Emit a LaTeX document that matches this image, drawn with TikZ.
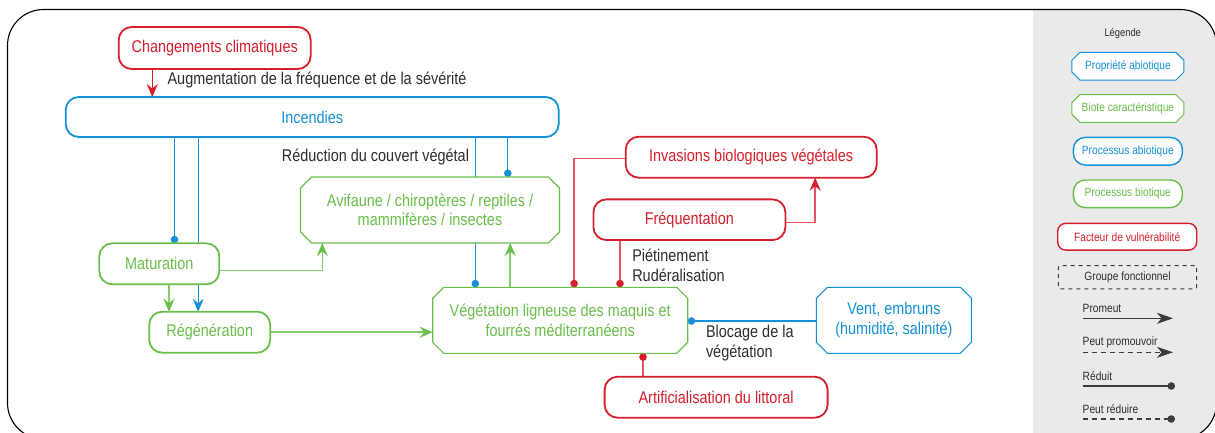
\documentclass[tikz,border=0pt]{standalone}
\usepackage{fontspec}
\setmainfont[FakeStretch=0.85]{Liberation Sans}
\usetikzlibrary{arrows.meta,calc}
\definecolor{cblue}{RGB}{20,145,216}
\definecolor{cgreen}{RGB}{106,190,74}
\definecolor{cred}{RGB}{214,30,44}
\definecolor{lgreen}{RGB}{135,205,108}
\definecolor{lred}{RGB}{226,84,94}
\definecolor{txtgrey}{RGB}{45,45,45}
\definecolor{legline}{RGB}{60,60,60}
\definecolor{panelgrey}{RGB}{234,234,234}
\pgfdeclarelayer{bg}
\pgfdeclarelayer{shapes}
\pgfsetlayers{bg,shapes,main}
\newcommand{\octbox}[3]{%
  \draw[#3] ([xshift=#2]#1.north west) -- ([xshift=-#2]#1.north east) -- ([yshift=-#2]#1.north east) -- ([yshift=#2]#1.south east) -- ([xshift=-#2]#1.south east) -- ([xshift=#2]#1.south west) -- ([yshift=#2]#1.south west) -- ([yshift=-#2]#1.north west) -- cycle;}
\begin{document}
\begin{tikzpicture}[x=1pt,y=-1pt,
  every node/.style={font=\fontsize{17}{19.6}\selectfont, inner sep=0pt, outer sep=0pt},
  rbox/.style={draw, line width=1.8pt, rounded corners=13pt, fill=white, align=center},
  obox/.style={align=center},
  octline/.style={line width=1.1pt, fill=white},
  lbl/.style={text=txtgrey, align=left},
  promo/.style={line width=1.5pt, -{Stealth[length=13pt,width=11pt,inset=4.5pt]}},
  reduc/.style={line width=1.4pt, -{Circle[length=7.5pt]}},
  legtxt/.style={font=\fontsize{12}{14}\selectfont},
  lrbox/.style={draw, line width=1.4pt, rounded corners=12pt, fill=white, legtxt},
  lobox/.style={legtxt},
  legl/.style={line width=1.3pt, legline}
]
\useasboundingbox (0,0) rectangle (1215,432);

% frame and legend panel
\begin{pgfonlayer}{bg}
\begin{scope}
  \clip[rounded corners=36pt] (7.5,9.5) rectangle (1216.5,439);
  \fill[panelgrey] (1033,0) rectangle (1220,440);
\end{scope}
\draw[line width=1.1pt, rounded corners=36pt] (7.5,9.5) rectangle (1216.5,439);
\end{pgfonlayer}

% main nodes
\node[rbox, draw=cred, text=cred, minimum width=192pt, minimum height=42pt] (cc) at (214.7,48) {Changements climatiques};
\node[rbox, draw=cblue, text=cblue, minimum width=493pt, minimum height=40pt] (inc) at (312.2,117) {Incendies};
\node[obox, text=cgreen, minimum width=259pt, minimum height=66pt] (avi) at (430,210) {Avifaune / chiroptères / reptiles /\\mammifères / insectes};
\node[rbox, draw=cgreen, text=cgreen, minimum width=120pt, minimum height=41pt] (mat) at (159.3,263.8) {Maturation};
\node[rbox, draw=cgreen, text=cgreen, minimum width=121pt, minimum height=41pt] (reg) at (209.7,332.2) {Régénération};
\node[obox, text=cgreen, minimum width=255pt, minimum height=66pt] (veg) at (560.2,320.3) {Végétation ligneuse des maquis et\\fourrés méditerranéens};
\node[rbox, draw=cred, text=cred, minimum width=251pt, minimum height=41pt] (inv) at (751.2,157.2) {Invasions biologiques végétales};
\node[rbox, draw=cred, text=cred, minimum width=192pt, minimum height=40.7pt] (fre) at (689.4,219.7) {Fréquentation};
\node[obox, text=cblue, minimum width=155pt, minimum height=66pt] (vent) at (893.9,320.3) {Vent, embruns\\(humidité, salinité)};
\node[rbox, draw=cred, text=cred, minimum width=223pt, minimum height=41pt] (art) at (716.1,397.2) {Artificialisation du littoral};

% labels
\node[lbl, anchor=west] (laug) at (167.6,80) {Augmentation de la fréquence et de la sévérité};
\node[lbl, anchor=east] (lred) at (469,157) {Réduction du couvert végétal};
\node[lbl, anchor=west] (lpie) at (632.3,265.5) {Piétinement\\Rudéralisation};
\node[lbl, anchor=west] (lblo) at (706,343) {Blocage de la\\végétation};

% legend nodes
\node[text=txtgrey, font=\fontsize{11}{13}\selectfont] (legt) at (1122.7,33.3) {Légende};
\node[lobox, text=cblue, minimum width=112pt, minimum height=27.7pt] (lg1) at (1127.9,66.2) {Propriété abiotique};
\node[lobox, text=cgreen, minimum width=112pt, minimum height=27.7pt] (lg2) at (1127.9,108.5) {Biote caractéristique};
\node[lrbox, draw=cblue, text=cblue, minimum width=109pt, minimum height=27.7pt] (lg3) at (1127.8,151.2) {Processus abiotique};
\node[lrbox, draw=cgreen, text=cgreen, minimum width=109pt, minimum height=27.7pt] (lg4) at (1127.8,193.8) {Processus biotique};
\node[lrbox, draw=cred, text=cred, rounded corners=8pt, minimum width=139pt, minimum height=26.7pt] (lg5) at (1127.2,236.7) {Facteur de vulnérabilité};
\node[draw=legline, line width=1pt, dash pattern=on 4pt off 4pt, rounded corners=2pt, legtxt, text=txtgrey, minimum width=138.4pt, minimum height=23.3pt] (lg6) at (1127.5,277.3) {Groupe fonctionnel};

% octagon outlines
\begin{pgfonlayer}{shapes}
\octbox{avi}{11pt}{octline, draw=cgreen}
\octbox{veg}{11pt}{octline, draw=cgreen}
\octbox{vent}{11pt}{octline, draw=cblue}
\octbox{lg1}{8pt}{octline, line width=1pt, draw=cblue}
\octbox{lg2}{8pt}{octline, line width=1pt, draw=cgreen}
\end{pgfonlayer}

% connectors
\begin{pgfonlayer}{bg}
\draw[promo, cred] ([xshift=-62.4pt]cc.south) -- ([xshift=-62.4pt]cc.south |- inc.north);
\draw[reduc, cblue, line width=1.2pt] ([xshift=-137.7pt]inc.south) -- ([xshift=-137.7pt]inc.south |- mat.north);
\draw[promo, cblue, line width=1.2pt] ([xshift=-114pt]inc.south) -- ([xshift=-114pt]inc.south |- reg.north);
\draw[reduc, cblue, line width=1.2pt] ([xshift=163.1pt]inc.south) -- ([xshift=163.1pt]inc.south |- veg.north);
\draw[reduc, cblue, line width=1.2pt] ([xshift=195.6pt]inc.south) -- ([xshift=195.6pt]inc.south |- avi.north);
\draw[promo, lgreen, -{Stealth[length=13pt,width=11pt,inset=4.5pt,color=cgreen]}] ([yshift=-6.9pt]mat.east) -| ([xshift=-107.7pt]avi.south);
\draw[promo, lgreen, -{Stealth[length=13pt,width=11pt,inset=4.5pt,color=cgreen]}] ([xshift=9.7pt]mat.south) -- ([xshift=9.7pt]mat.south |- reg.north);
\draw[promo, lgreen, -{Stealth[length=13pt,width=11pt,inset=4.5pt,color=cgreen]}] (reg.east) -- (reg.east -| veg.west);
\draw[promo, lgreen, -{Stealth[length=13pt,width=11pt,inset=4.5pt,color=cgreen]}] ([xshift=-50pt]veg.north) -- ([xshift=-50pt]veg.north |- avi.south);
\draw[reduc, lred, -{Circle[length=7.5pt,color=cred]}] ([yshift=-1pt]inv.west) -| ([xshift=13.9pt]veg.north);
\draw[promo, lred, -{Stealth[length=13pt,width=11pt,inset=4.5pt,color=cred]}] ([yshift=-3pt]fre.east) -| ([xshift=64pt]inv.south);
\draw[reduc, lred, -{Circle[length=7.5pt,color=cred]}] ([xshift=-69.4pt]fre.south) -- ([xshift=-69.4pt]fre.south |- veg.north);
\draw[reduc, cblue, line width=1.2pt] ([yshift=-0.7pt]vent.west) -- ([yshift=-0.7pt]vent.west -| veg.east);
\draw[reduc, lred, -{Circle[length=7.5pt,color=cred]}] ([xshift=-73.1pt]art.north) -- ([xshift=-73.1pt]art.north |- veg.south);
\end{pgfonlayer}

% legend lines
\node[legtxt, text=txtgrey, anchor=west] (lt1) at (1082.7,308.3) {Promeut};
\node[legtxt, text=txtgrey, anchor=west] (lt2) at (1082.7,342.3) {Peut promouvoir};
\node[legtxt, text=txtgrey, anchor=west] (lt3) at (1082.7,375.7) {Réduit};
\node[legtxt, text=txtgrey, anchor=west] (lt4) at (1082.7,409) {Peut réduire};
\coordinate (a1) at (1082.7,318.3); \coordinate (b1) at (1173,318.3);
\coordinate (a2) at (1082.7,352.3); \coordinate (b2) at (1173,352.3);
\coordinate (a3) at (1082.7,386); \coordinate (b3) at (1175,386);
\coordinate (a4) at (1082.7,419); \coordinate (b4) at (1175,419);
\draw[legl, -{Stealth[length=16pt,width=11pt,inset=4.5pt]}] (a1) -- (b1);
\draw[legl, dash pattern=on 5pt off 4pt, -{Stealth[length=16pt,width=11pt,inset=4.5pt]}] (a2) -- (b2);
\draw[legl, -{Circle[length=7.5pt]}] (a3) -- (b3);
\draw[legl, dash pattern=on 5pt off 4pt, -{Circle[length=7.5pt]}] (a4) -- (b4);
\end{tikzpicture}
\end{document}
